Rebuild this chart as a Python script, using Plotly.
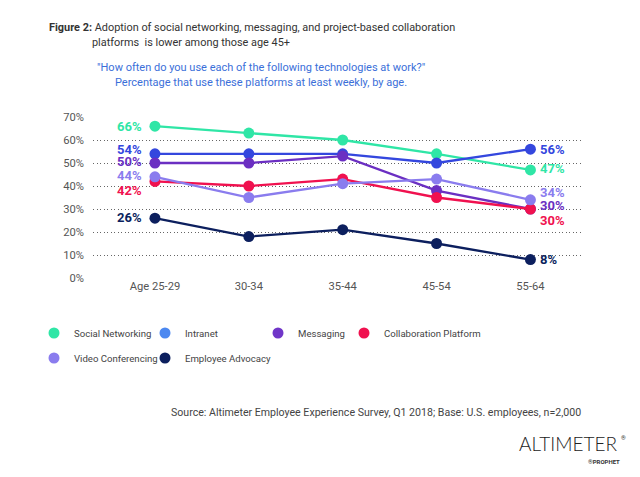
import plotly.graph_objects as go

ages = ["Age 25-29", "30-34", "35-44", "45-54", "55-64"]
series_names = ["Social Networking", "Intranet", "Messaging", "Collaboration Platform",
                "Video Conferencing", "Employee Advocacy"]
social = [66, 63, 60, 54, 47]
intranet = [54, 54, 54, 50, 56]
messaging = [50, 50, 53, 38, 30]
collab = [42, 40, 43, 35, 30]
video = [44, 35, 41, 43, 34]
advocacy = [26, 18, 21, 15, 8]
y_ticks = [0, 10, 20, 30, 40, 50, 60, 70]

values = [social, intranet, messaging, collab, video, advocacy]
colors = ["#2FE6A6", "#3447DE", "#6B2FC2", "#F0114F", "#8A7CEE", "#0C1F5E"]
legend_colors = ["#2FE6A6", "#4C88F0", "#7036C8", "#F0114F", "#8A7CEE", "#0C1F5E"]
left_shift = [0, 4, 2, -9, 1.5, 1]
right_shift = [1, 0, 3.5, -11, 7.5, 0]

W, H = 640, 477
ML, MR, MT, MB = 93, 57, 117, 199
PW, PH = W - ML - MR, H - MT - MB


def px(x):
    return (x - ML) / PW


def py(y):
    return (H - MB - y) / PH


FONT = "Roboto"
fig = go.Figure()
legend_ids = ["legend", "legend2", "legend3", "legend4", "legend5", "legend6"]
for i, name in enumerate(series_names):
    fig.add_trace(go.Scatter(
        x=ages, y=values[i], name=name, mode="lines+markers",
        line=dict(color=colors[i], width=2.3),
        marker=dict(color=colors[i], size=11),
        cliponaxis=False, legend=legend_ids[i], showlegend=False,
    ))
    fig.add_trace(go.Scatter(
        x=[ages[0]], y=[None], name=name, mode="markers",
        marker=dict(color=legend_colors[i], size=11),
        legend=legend_ids[i], showlegend=True, hoverinfo="skip",
    ))

annotations = []
for i in range(len(series_names)):
    v = values[i]
    annotations.append(dict(
        x=ages[0], y=v[0], xref="x", yref="y", text=f"<b>{v[0]}%</b>",
        showarrow=False, xanchor="right", yanchor="middle", xshift=-11,
        yshift=left_shift[i], font=dict(family=FONT, size=13, color=colors[i])))
    annotations.append(dict(
        x=ages[-1], y=v[-1], xref="x", yref="y", text=f"<b>{v[-1]}%</b>",
        showarrow=False, xanchor="left", yanchor="middle", xshift=8,
        yshift=right_shift[i], font=dict(family=FONT, size=13, color=colors[i])))

annotations += [
    dict(x=px(47), y=py(27), xref="paper", yref="paper",
         text="<b>Figure 2:</b> Adoption of social networking, messaging, and project-based collaboration",
         showarrow=False, xanchor="left", yanchor="middle",
         font=dict(family=FONT, size=10.9, color="#333333")),
    dict(x=px(90), y=py(42.5), xref="paper", yref="paper",
         text="platforms  is lower among those age 45+",
         showarrow=False, xanchor="left", yanchor="middle",
         font=dict(family=FONT, size=10.9, color="#333333")),
    dict(x=px(261), y=py(67), xref="paper", yref="paper",
         text="\"How often do you use each of the following technologies at work?\"",
         showarrow=False, xanchor="center", yanchor="middle",
         font=dict(family=FONT, size=11, color="#3B6FD9")),
    dict(x=px(261), y=py(82.5), xref="paper", yref="paper",
         text="Percentage that use these platforms at least weekly, by age.",
         showarrow=False, xanchor="center", yanchor="middle",
         font=dict(family=FONT, size=11, color="#3B6FD9")),
    dict(x=px(583), y=py(412), xref="paper", yref="paper",
         text="Source: Altimeter Employee Experience Survey, Q1 2018; Base: U.S. employees, n=2,000",
         showarrow=False, xanchor="right", yanchor="middle",
         font=dict(family=FONT, size=10.6, color="#444444")),
    dict(x=px(619), y=py(443), xref="paper", yref="paper",
         text="ALTIMETER",
         showarrow=False, xanchor="right", yanchor="middle",
         font=dict(family="Lato", weight=300, size=19, color="#222222")),
    dict(x=px(619), y=py(437), xref="paper", yref="paper",
         text="®", showarrow=False, xanchor="left", yanchor="middle",
         font=dict(family=FONT, size=6, color="#333333")),
    dict(x=px(622), y=py(461), xref="paper", yref="paper",
         text="<b>®PROPHET</b>",
         showarrow=False, xanchor="right", yanchor="middle",
         font=dict(family=FONT, size=6, color="#333333")),
]

legend_pos = [(74, 333), (185, 333), (298, 333), (384, 333), (74, 358), (185, 358)]
legend_layouts = {}
for i, lid in enumerate(legend_ids):
    tx, ty = legend_pos[i]
    legend_layouts[lid] = dict(
        x=(tx - 40) / W, y=1 - ty / H, xref="container", yref="container",
        xanchor="left", yanchor="middle", bgcolor="rgba(0,0,0,0)",
        font=dict(family=FONT, size=9.6, color="#444444"),
        itemwidth=30, tracegroupgap=0,
    )

fig.update_layout(
    width=W, height=H,
    margin=dict(l=ML, r=MR, t=MT, b=MB, autoexpand=False),
    paper_bgcolor="white", plot_bgcolor="white",
    font=dict(family=FONT, color="#555555"),
    annotations=annotations,
    **legend_layouts,
    xaxis=dict(
        type="category", categoryarray=ages, range=[-0.66, 4.56], showgrid=False,
        zeroline=False, showline=False, ticks="",
        tickfont=dict(family=FONT, size=11.2, color="#555555"),
    ),
    yaxis=dict(
        range=[0, 70], tickvals=y_ticks, ticktext=[f"{t}%" for t in y_ticks],
        showgrid=True, gridcolor="#666666", griddash="1px,2.5px", gridwidth=1,
        zeroline=False, showline=False, ticks="", ticklabelstandoff=8,
        tickfont=dict(family=FONT, size=11.2, color="#555555"),
    ),
)

fig.write_html("out.html", post_script="document.body.style.margin='0';",
               config={"displayModeBar": False})
